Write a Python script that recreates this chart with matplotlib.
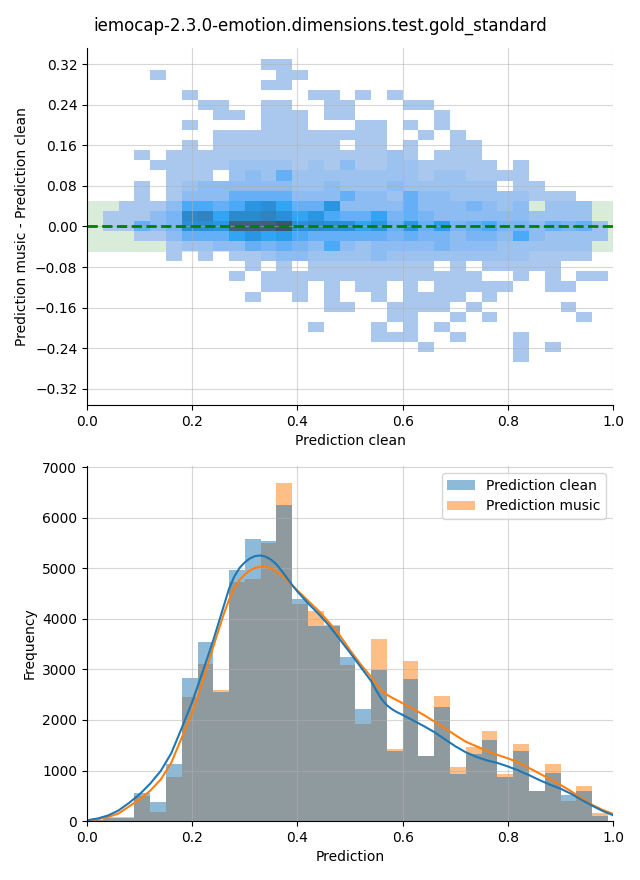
import numpy as np
import matplotlib
matplotlib.use('Agg')
import matplotlib.pyplot as plt
import matplotlib.ticker as ticker
import seaborn as sns

# ── Data ─────────────────────────────────────────────────────────────────────
TITLE = 'iemocap-2.3.0-emotion.dimensions.test.gold_standard'

# shared x bins of both panels
BIN_WIDTH = 0.03
N_XBINS = 33
# y bins of the difference histogram
Y_LOW, Y_HIGH, N_YBINS = -0.2676, 0.3294, 30

# bottom panel: counts per bin
CLEAN_COUNTS = [30, 60, 60, 550, 370, 1130, 2830, 3540, 2550, 4970, 5580,
                5550, 6260, 4400, 3850, 3850, 3250, 2220, 2990, 1390, 2810,
                1290, 2260, 940, 1330, 1600, 880, 1390, 600, 960, 515, 600, 105]
MUSIC_COUNTS = [20, 75, 75, 495, 180, 880, 2460, 3110, 2600, 4730, 4790,
                5500, 6690, 4300, 4165, 3880, 3090, 1920, 3600, 1430, 3170,
                1290, 2480, 1070, 1460, 1780, 930, 1525, 600, 1130, 400, 690, 150]

# density curves (scaled to counts)
KDE_X_CLEAN = [0.0, 0.02, 0.04, 0.06, 0.08, 0.10, 0.12, 0.14, 0.16, 0.18,
               0.19, 0.20, 0.21, 0.22, 0.23, 0.24, 0.25, 0.26, 0.27, 0.28,
               0.29, 0.30, 0.31, 0.32, 0.33, 0.34, 0.35, 0.36, 0.37, 0.38,
               0.39, 0.40, 0.42, 0.44, 0.46, 0.48, 0.50, 0.52, 0.54, 0.55,
               0.56, 0.57, 0.58, 0.59, 0.60, 0.62, 0.64, 0.66, 0.68, 0.70,
               0.72, 0.74, 0.76, 0.78, 0.80, 0.82, 0.84, 0.86, 0.88, 0.90,
               0.92, 0.94, 0.96, 0.98, 1.0]
KDE_CLEAN = [15, 50, 110, 210, 360, 530, 740, 990, 1340, 1840,
             2100, 2360, 2660, 2960, 3270, 3580, 3920, 4260, 4600, 4840,
             5010, 5120, 5200, 5245, 5255, 5230, 5170, 5080, 4950, 4810,
             4670, 4540, 4310, 4100, 3870, 3600, 3330, 3050, 2770, 2580,
             2410, 2290, 2210, 2150, 2100, 1990, 1880, 1760, 1620, 1480,
             1360, 1270, 1200, 1150, 1080, 1000, 910, 810, 720, 640,
             540, 420, 305, 200, 115]
KDE_X_MUSIC = [0.0, 0.02, 0.04, 0.06, 0.08, 0.10, 0.12, 0.14, 0.16, 0.18,
               0.19, 0.20, 0.21, 0.22, 0.23, 0.24, 0.25, 0.26, 0.27, 0.28,
               0.29, 0.30, 0.31, 0.32, 0.33, 0.34, 0.35, 0.36, 0.37, 0.38,
               0.39, 0.40, 0.42, 0.44, 0.46, 0.48, 0.50, 0.52, 0.54, 0.55,
               0.56, 0.57, 0.58, 0.60, 0.62, 0.64, 0.66, 0.68, 0.70, 0.72,
               0.74, 0.76, 0.78, 0.80, 0.82, 0.84, 0.86, 0.88, 0.90, 0.92,
               0.94, 0.96, 0.98, 1.0]
KDE_MUSIC = [10, 35, 80, 150, 290, 430, 600, 820, 1150, 1650,
             1900, 2150, 2450, 2780, 3110, 3450, 3780, 4100, 4380, 4600,
             4770, 4880, 4960, 5010, 5030, 5035, 5000, 4940, 4860, 4760,
             4660, 4560, 4360, 4160, 3930, 3680, 3380, 3100, 2850, 2700,
             2580, 2500, 2440, 2330, 2220, 2100, 1970, 1840, 1700, 1570,
             1480, 1390, 1310, 1240, 1160, 1050, 940, 830, 715, 590,
             450, 320, 220, 140]

# top panel: density level per cell, rows from top (0.33) to bottom (-0.27),
# "start:levels" segments, level chars in base 36 (2 = faintest, k = densest)
DIFF_ROWS = [
    '11:22',
    '4:2 12:22',
    '11:22',
    '6:2 14:22 17:2 19:2',
    '7:22 11:22 15:22 20:22',
    '8:22 11:222 15:22 22:2',
    '6:2 11:222 17:22 20:2 22:2',
    '8:22222222222 21:2 23:2',
    '6:2 8:22222222 17:22 20:2 23:22',
    '3:2 5:2222222222222232 22:222',
    '4:2222233332324223322222 27:2',
    '5:222 9:3436333333332332222',
    '3:2 5:234444443343334333333 27:22',
    '3:2 5:24446666444644364433333222',
    '2:22247767ab866a444464445434 29:333',
    '1:22245cd8ccdb8a76685654444443333',
    '1:22645bbaiiikbcbb8a6a695675546563',
    '3:2246668a8976666656554554743333',
    '5:233446565474344445444333333',
    '5:2 7:2 9:22344333343333333332222',
    '10:2 12:2 14:22222222 23:2 25:22222',
    '9:2 11:22222222222222 27:2 29:2 31:22',
    '11:222 15:2 17:22 20:2 22:22222 29:22',
    '10:2 13:2 15:2 18:2 20:2222 25:2',
    '15:22 19:2222 24:2 30:2',
    '19:22 23:2 25:2 31:2',
    '14:2 18:2 20:2 22:2',
    '18:222 23:2 27:2',
    '21:2 27:2 29:2',
    '27:2',
]
# faintest level sits just above zero of the colour scale
LEVEL_OFFSET = 1.8


def parse_cells(rows):
    grid = np.zeros((N_YBINS, N_XBINS))
    for t, row in enumerate(rows):
        j = N_YBINS - 1 - t
        for seg in row.split():
            start, levels = seg.split(':')
            start = int(start)
            assert start + len(levels) <= N_XBINS, row
            for k, c in enumerate(levels):
                grid[j, start + k] = int(c, 36)
    return grid


def main():
    x_edges = np.arange(N_XBINS + 1) * BIN_WIDTH
    y_edges = np.linspace(Y_LOW, Y_HIGH, N_YBINS + 1)
    x_mid = (x_edges[:-1] + x_edges[1:]) / 2
    y_mid = (y_edges[:-1] + y_edges[1:]) / 2

    grid = parse_cells(DIFF_ROWS)
    jj, ii = np.nonzero(grid)
    cx, cy = x_mid[ii], y_mid[jj]
    cw = grid[jj, ii] - LEVEL_OFFSET

    fig = plt.figure(figsize=(6.4, 8.8), dpi=100)
    ax1 = fig.add_axes([0.136, 0.5398, 0.822, 0.4057])
    ax2 = fig.add_axes([0.136, 0.067, 0.822, 0.4034])

    # ── top: difference vs clean prediction
    ax1.axhspan(-0.05, 0.05, color='green', alpha=0.15, lw=0)
    sns.histplot(x=cx, y=cy, weights=cw, bins=[x_edges, y_edges], ax=ax1)
    ax1.axhline(0, color='green', linestyle='--', linewidth=2)
    ax1.set_xlim(0, 1)
    ax1.set_ylim(-0.352, 0.352)
    ax1.yaxis.set_major_locator(ticker.MultipleLocator(0.08))
    ax1.set_xlabel('Prediction clean')
    ax1.set_ylabel('Prediction music - Prediction clean')
    ax1.grid(True, alpha=0.5)

    # ── bottom: overlaid histograms with density curves
    bars_music = ax2.bar(x_edges[:-1], MUSIC_COUNTS, width=BIN_WIDTH, align='edge',
                         color='C1', alpha=0.5, linewidth=0, label='Prediction music')
    bars_clean = ax2.bar(x_edges[:-1], CLEAN_COUNTS, width=BIN_WIDTH, align='edge',
                         color='C0', alpha=0.5, linewidth=0, label='Prediction clean')
    ax2.plot(KDE_X_MUSIC, KDE_MUSIC, color='C1', linewidth=1.5)
    ax2.plot(KDE_X_CLEAN, KDE_CLEAN, color='C0', linewidth=1.5)
    ax2.set_xlim(0, 1)
    ax2.set_xlabel('Prediction')
    ax2.set_ylabel('Frequency')
    ax2.grid(True, alpha=0.5)
    ax2.legend(handles=[bars_clean, bars_music], loc='upper right')

    for ax in (ax1, ax2):
        ax.spines['top'].set_visible(False)
        ax.spines['right'].set_visible(False)

    fig.text(0.5, 1 - 26 / 880, TITLE, ha='center', va='center', fontsize=12)
    fig.savefig('out.png')
    plt.close(fig)


if __name__ == '__main__':
    main()
